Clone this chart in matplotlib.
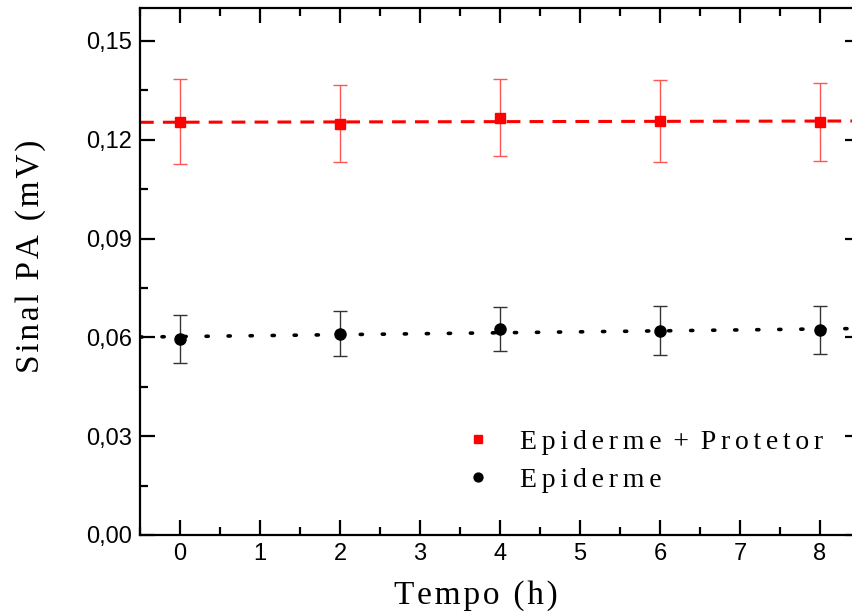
import numpy as np
import matplotlib
matplotlib.use("Agg")
import matplotlib.pyplot as plt
from matplotlib.ticker import MultipleLocator, FuncFormatter

# dados
tempo = [0, 2, 4, 6, 8]

prot_y = [0.1254, 0.1248, 0.1266, 0.1257, 0.1254]
prot_lo = [0.1127, 0.1133, 0.1152, 0.1133, 0.1136]
prot_hi = [0.1385, 0.1366, 0.1385, 0.1382, 0.1373]

epi_y = [0.0595, 0.0611, 0.0625, 0.0620, 0.0622]
epi_lo = [0.0523, 0.0544, 0.0559, 0.0545, 0.0549]
epi_hi = [0.0668, 0.0680, 0.0691, 0.0695, 0.0695]

# retas de ajuste (extremos)
fit_x = [-0.5, 8.5]
prot_fit = [0.1253, 0.1257]
epi_fit = [0.0601, 0.0627]

HAIR = "\u200a"


def espacado(txt, sep=HAIR):
    # letras mais afastadas, como no original
    return (HAIR + " " + HAIR).join(sep.join(p) for p in txt.split(" "))


fig = plt.figure(figsize=(8.53, 6.16), dpi=100)
ax = fig.add_axes([0.1641, 0.1315, 0.8441, 0.8555])

ax.plot(fit_x, prot_fit, color="red", lw=2.2, dashes=(4.5, 3))
ax.plot(fit_x, epi_fit, color="black", lw=2.6, dashes=(0.6, 5.5), dash_capstyle="round")

p_err = [np.array(prot_y) - np.array(prot_lo), np.array(prot_hi) - np.array(prot_y)]
e_err = [np.array(epi_y) - np.array(epi_lo), np.array(epi_hi) - np.array(epi_y)]

ax.errorbar(tempo, prot_y, yerr=p_err, fmt="none", ecolor="#ff5555", elinewidth=1.0, capsize=5, capthick=1.0)
ax.errorbar(tempo, epi_y, yerr=e_err, fmt="none", ecolor="#333333", elinewidth=1.0, capsize=5, capthick=1.0)
ax.plot(tempo, prot_y, "s", color="red", ms=7.5, label=espacado("Epiderme + Protetor", HAIR * 2), zorder=5)
ax.plot(tempo, epi_y, "o", color="black", ms=8, label=espacado("Epiderme", HAIR * 2), zorder=5)

ax.set_xlim(-0.5, 8.5)
ax.set_ylim(0, 0.16)
ax.xaxis.set_major_locator(MultipleLocator(1))
ax.xaxis.set_minor_locator(MultipleLocator(0.5))
ax.yaxis.set_major_locator(MultipleLocator(0.03))
ax.yaxis.set_minor_locator(MultipleLocator(0.015))
ax.yaxis.set_major_formatter(FuncFormatter(lambda v, p: "{:.2f}".format(v).replace(".", ",")))

ax.tick_params(which="both", direction="in", top=True, right=True, width=1.6, labelsize=17)
ax.tick_params(which="major", length=11, pad=6)
ax.tick_params(which="minor", length=6)
for lab in ax.get_xticklabels() + ax.get_yticklabels():
    lab.set_fontfamily("Liberation Sans")
for s in ax.spines.values():
    s.set_linewidth(1.6)

ax.set_xlabel(espacado("Tempo (h)"), fontfamily="Liberation Serif", fontsize=24)
ax.xaxis.set_label_coords(0.467, -0.085)
ax.set_ylabel(espacado("Sinal PA (mV)"), fontfamily="Liberation Serif", fontsize=24)
ax.yaxis.set_label_coords(-0.131, 0.529)

leg = ax.legend(loc="upper left", bbox_to_anchor=(453 / 853, 1 - 418 / 616), bbox_transform=fig.transFigure,
                frameon=False, handlelength=1.0, handletextpad=1.0, labelspacing=0.45, borderaxespad=0,
                prop={"family": "Liberation Serif", "size": 20}, markerscale=0.8)

fig.savefig("out.png", dpi=100)
